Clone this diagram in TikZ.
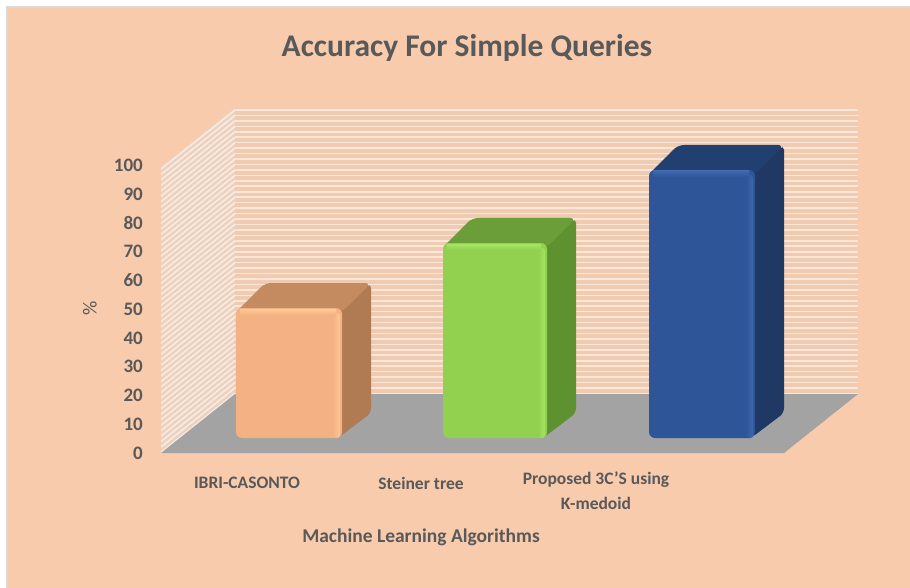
\documentclass[tikz,border=0pt]{standalone}
\usepackage{fontspec}
\setmainfont{Carlito}
\usetikzlibrary{calc}

\definecolor{bgpeach}{HTML}{F8CBAD}
\definecolor{wallfill}{HTML}{EFCBB2}
\definecolor{wallline}{HTML}{FCE6D8}
\definecolor{sidefill}{HTML}{EAD2C1}
\definecolor{sideline}{HTML}{FBEADF}
\definecolor{floorgray}{HTML}{A3A3A3}
\definecolor{labelgray}{HTML}{595959}
\definecolor{orfront}{HTML}{F4B183}
\definecolor{orside}{HTML}{B07A52}
\definecolor{ortop}{HTML}{C48A60}
\definecolor{orhi}{HTML}{FFC896}
\definecolor{grfront}{HTML}{92D050}
\definecolor{grside}{HTML}{5E9130}
\definecolor{grtop}{HTML}{6B9D38}
\definecolor{grhi}{HTML}{A6E466}
\definecolor{blfront}{HTML}{2E5597}
\definecolor{blside}{HTML}{1F3864}
\definecolor{bltop}{HTML}{22406F}
\definecolor{blhi}{HTML}{3F68AE}

\tikzset{
  axislabel/.style={text=labelgray, font=\fontsize{19}{21}\selectfont\bfseries, inner sep=0pt},
  catlabel/.style={text=labelgray, font=\fontsize{17.5}{25}\selectfont\bfseries, inner sep=0pt, align=center},
  titlelabel/.style={text=labelgray, font=\fontsize{31.5}{34}\selectfont\bfseries, inner sep=0pt},
}

% 3-D bar: #1 left x, #2 right x, #3 top y, #4 bottom y, #5 front, #6 side, #7 top colour, #8 highlight
\newcommand\drawbar[8]{%
  \fill[#6, rounded corners=5] (#2-4,#4) -- (#2-4,#3) -- (#2+29,#3-25) -- (#2+29,#4-25) -- cycle;
  \fill[#7, rounded corners=6] (#1,#3+4) -- (#1+29,#3-25) -- (#2+29,#3-25) -- (#2,#3+4) -- cycle;
  \fill[#5, rounded corners=6] (#1,#4) rectangle (#2,#3);
  \shade[left color=#5, right color=#8, rounded corners=3] (#2-9,#4) rectangle (#2-2,#3+5);
  \shade[top color=#8, bottom color=#5] (#1+4,#3+1) rectangle (#2-6,#3+7);
}

\begin{document}
\begin{tikzpicture}[x=1pt, y=-1pt]
  \useasboundingbox (0,0) rectangle (910,588);
  \fill[white] (0,0) rectangle (910,588);
  \fill[bgpeach] (7,7) rectangle (910,588);
  \draw[line width=1.5pt, color=black!15] (7,588) -- (7,7) -- (910,7);

  % back wall with horizontal stripes
  \fill[wallfill] (235,108) rectangle (858,395);
  \foreach \k in {0,...,52} {
    \draw[wallline, line width=1.6pt] (235,{110+\k*5.45}) -- (858,{110+\k*5.45});
  }
  % side wall with slanted stripes
  \fill[sidefill] (161,167) -- (235,108) -- (235,395) -- (161,453) -- cycle;
  \begin{scope}
    \clip (161,167) -- (235,108) -- (235,395) -- (161,453) -- cycle;
    \foreach \k in {0,...,54} {
      \draw[sideline, line width=1.6pt] (161,{169+\k*5.45}) -- (235,{110+\k*5.45});
    }
  \end{scope}
  % floor
  \fill[floorgray] (161,453) -- (235,394) -- (858,394) -- (784,453) -- cycle;

  % bars
  \drawbar{236}{342}{308}{438}{orfront}{orside}{ortop}{orhi}
  \drawbar{443}{547}{243}{438}{grfront}{grside}{grtop}{grhi}
  \drawbar{649}{755}{170}{438}{blfront}{blside}{bltop}{blhi}

  % title
  \node[titlelabel] (title) at (467,48) {Accuracy For Simple Queries};

  % value axis
  \foreach \v [count=\i from 0] in {0,10,...,100} {
    \node[axislabel, anchor=east] (tick\i) at (143,{453-\v*2.875}) {\v};
  }
  \node[text=labelgray, font=\fontsize{20}{22}\selectfont, rotate=90, inner sep=0pt] (ytitle) at (90,308) {\%};

  % categories
  \node[catlabel] (cat1) at (247,483) {IBRI-CASONTO};
  \node[catlabel] (cat2) at (421,483) {Steiner tree};
  \node[catlabel, anchor=north] (cat3) at (596,472) {Proposed 3C’S using\\K-medoid};
  \node[text=labelgray, font=\fontsize{19.5}{22}\selectfont\bfseries, inner sep=0pt] (xtitle) at (421,537) {Machine Learning Algorithms};
\end{tikzpicture}
\end{document}
